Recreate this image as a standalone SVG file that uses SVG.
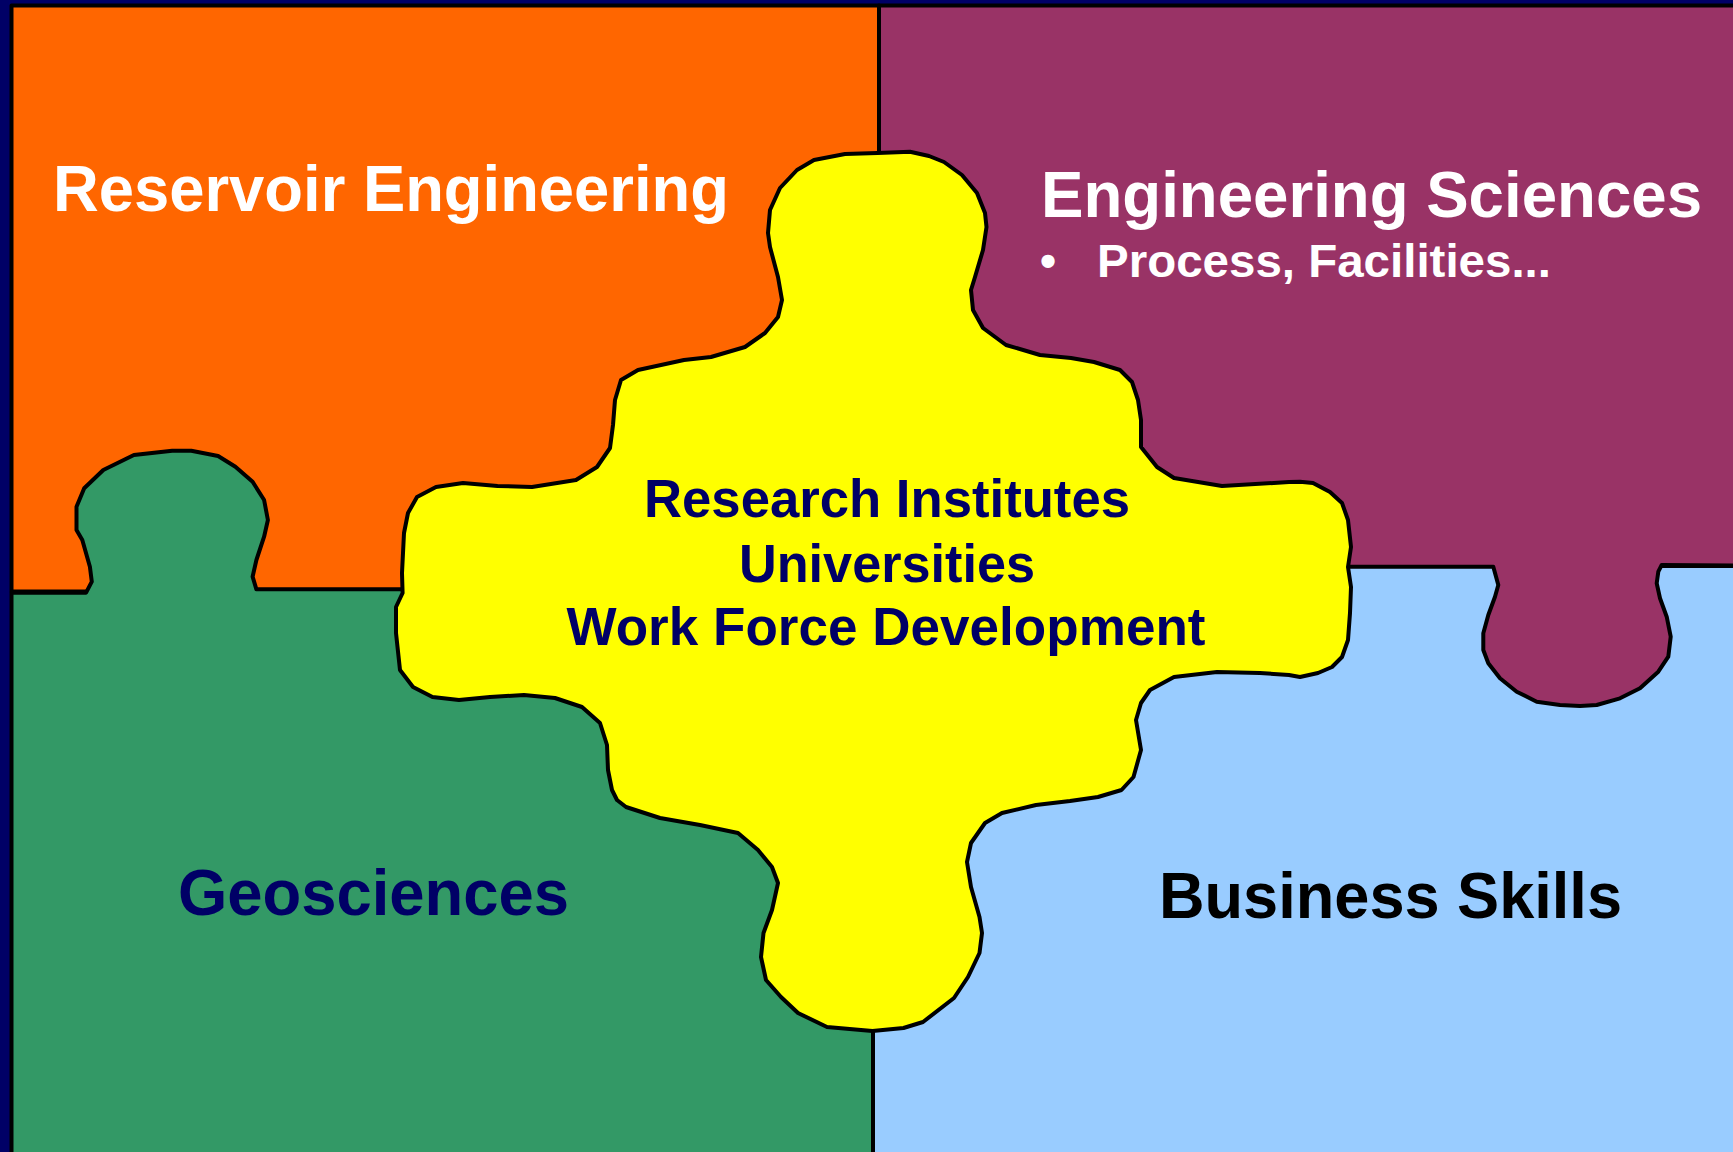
<svg xmlns="http://www.w3.org/2000/svg" width="1733" height="1152" viewBox="0 0 1733 1152">
<style>
.edge{stroke:#000;stroke-width:4;stroke-linejoin:round}
.t{font-family:"Liberation Sans",Arial,sans-serif;font-weight:bold}
.w{fill:#fff}
.n{fill:#000066}
.k{fill:#000}
</style>
<rect x="0" y="0" width="1733" height="1152" fill="#000066"/>
<g id="reservoir-engineering">
<rect class="edge" x="11.5" y="5.5" width="867.5" height="586" fill="#FF6600"/>
<text class="t w" x="53" y="211" font-size="64" textLength="676" lengthAdjust="spacingAndGlyphs">Reservoir Engineering</text>
</g>
<g id="business-skills">
<rect class="edge" x="873" y="566" width="870" height="600" fill="#99CCFF"/>
<text class="t k" x="1159" y="918" font-size="64" textLength="463" lengthAdjust="spacingAndGlyphs">Business Skills</text>
</g>
<g id="engineering-sciences">
<path class="edge" fill="#993366" d="M879,5.5 L1745,5.5 L1745,565.7 L1661.7,565 L1658.3,571.7 L1656.7,583.3 L1660,598.3 L1666.7,616.7 L1670.7,636.7 L1668.3,656.7 L1658.3,671.7 L1640,688.3 L1620,698.3 L1596.7,705 L1580,706 L1560,705 L1536.7,701.7 L1516.7,691.7 L1500,678.3 L1488.3,663.3 L1483.3,650 L1483.3,633.3 L1488.3,615 L1495,596.7 L1498.3,585 L1493.3,566.7 L879,566.7 Z"/>
<text class="t w" x="1041" y="217" font-size="64" textLength="661" lengthAdjust="spacingAndGlyphs">Engineering Sciences</text>
<text class="t w" x="1040" y="277" font-size="46">•</text>
<text class="t w" x="1097" y="277" font-size="46" textLength="454" lengthAdjust="spacingAndGlyphs">Process, Facilities...</text>
</g>
<g id="geosciences">
<path class="edge" fill="#339966" d="M11.5,592.5 L86.1,592.7 L91.8,581.7 L89.9,566.7 L82.3,540 L76.5,530 L76.5,506.7 L84.2,488.3 L103.3,470 L133.9,455 L172.2,450.7 L191.3,450.7 L218.1,456 L235.4,466.7 L252.6,481.7 L264.1,500 L267.9,520 L264.1,536.7 L256.4,560 L252.6,576.7 L256.4,589.3 L420,589.3 L873,700 L873,1170 L11.5,1170 Z"/>
<text class="t n" x="178" y="915" font-size="64" textLength="391" lengthAdjust="spacingAndGlyphs">Geosciences</text>
</g>
<g id="research-universities">
<path class="edge" fill="#FFFF00" d="M877.5,153 L910,151.7 L929,156 L944,162 L962,175 L977,193 L985,213 L986.5,227 L983,250 L975,277 L971,290 L973,310 L983,328 L1006,345 L1040,355 L1071,358 L1094,362 L1120,370 L1132,382 L1138,400 L1141,420 L1141,447 L1157,467 L1174,478 L1222,486 L1289,482 L1300,481.7 L1313,483 L1330,492 L1342,503 L1348,520 L1351,547 L1348,567 L1351,587 L1350,613 L1348,640 L1342,657 L1332,667 L1318,673 L1300,677 L1289,675 L1260,673 L1217,672 L1174,677 L1150,690 L1141,703 L1136,720 L1141,750 L1133.5,777 L1121.5,790 L1098,797 L1070,801 L1036,805 L1002,813 L985,823 L971,843 L967,862 L971,887 L979.5,917 L982,933 L979.5,953 L968,977 L954,998 L923,1022 L903.5,1028 L872.5,1031 L861,1030 L827,1027 L798,1013 L781,997 L766,980 L761,957 L763.5,933 L772,910 L778,883 L772,867 L758,850 L738,833 L700,825 L660,818 L626,807 L617,800 L612,790 L608,770 L607,745 L600,723 L582,707 L555,698 L524,695 L490,697 L459,700 L432.5,697 L413,687 L400,670 L396,633 L396,607 L402.6,593 L402,573 L404,533 L408,513 L417,497 L436,487 L463,483 L497.5,486 L532,487 L576,480 L597,467 L610,448 L613,425 L615,400 L621,380 L638,370 L684,360 L711,357 L745,347 L765,333 L778,317 L782,300 L778,277 L770,247 L768,233 L770,210 L780,188 L797,170 L814,160 L845,154 Z"/>
<text class="t n" x="887" y="517" font-size="53" text-anchor="middle" textLength="486" lengthAdjust="spacingAndGlyphs">Research Institutes</text>
<text class="t n" x="887" y="582" font-size="53" text-anchor="middle" textLength="296" lengthAdjust="spacingAndGlyphs">Universities</text>
<text class="t n" x="886" y="645" font-size="53" text-anchor="middle" textLength="639" lengthAdjust="spacingAndGlyphs">Work Force Development</text>
</g>
<g id="connectors"/>
</svg>
